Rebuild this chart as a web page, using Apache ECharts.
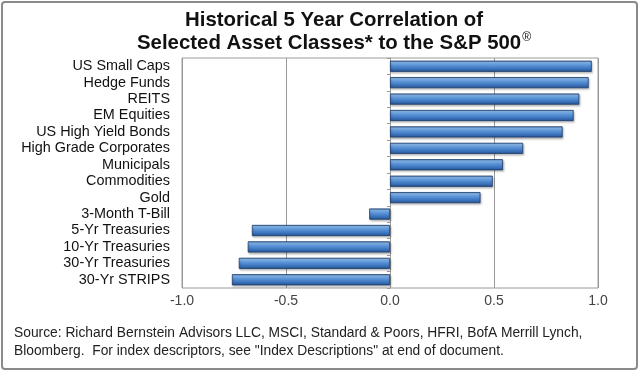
<!DOCTYPE html>
<html><head><meta charset="utf-8">
<script src="https://cdn.jsdelivr.net/npm/echarts@6/dist/echarts.min.js"></script>
<style>html,body{margin:0;padding:0;background:#fff}#c{width:640px;height:373px}</style>
</head><body><div id="c"></div>
<script>
const categories = ["US Small Caps","Hedge Funds","REITS","EM Equities","US High Yield Bonds","High Grade Corporates","Municipals","Commodities","Gold","3-Month T-Bill","5-Yr Treasuries","10-Yr Treasuries","30-Yr Treasuries","30-Yr STRIPS"];
const correlations = [0.97,0.955,0.91,0.883,0.83,0.64,0.543,0.494,0.435,-0.10,-0.664,-0.684,-0.727,-0.76];
const xTicks = {min:-1, max:1, step:0.5};
const titleLine1 = "Historical 5 Year Correlation of";
const titleLine2 = "Selected Asset Classes* to the S&P 500";
const titleMark = "\u00AE";
const sourceLines = ["Source: Richard Bernstein Advisors LLC, MSCI, Standard & Poors, HFRI, BofA Merrill Lynch,","Bloomberg.  For index descriptors, see \"Index Descriptions\" at end of document."];

const chart = echarts.init(document.getElementById('c'), null, {renderer:'canvas'});
const font = 'Arial, "Liberation Sans", sans-serif';
const barGrad = new echarts.graphic.LinearGradient(0,0,0,1,[
  {offset:0,color:'#3a6cb0'},
  {offset:0.15,color:'#8cbef0'},
  {offset:0.38,color:'#5f97da'},
  {offset:0.72,color:'#3c74bd'},
  {offset:1,color:'#22508e'}
]);
chart.setOption({
  animation:false,
  graphic:[
    {type:'rect', shape:{x:2,y:2,width:635,height:367,r:3}, style:{fill:'none',stroke:'#8a8a8a',lineWidth:2}, silent:true, z:-1},
    {type:'text', x:334, y:9, style:{text:titleLine1+'\n'+titleLine2+'{sup|'+titleMark+'}', align:'center',
      font:'bold 20.4px '+font, fill:'#111', lineHeight:23,
      rich:{sup:{font:'12px '+font, fill:'#111', verticalAlign:'top', lineHeight:23, padding:[0,0,8,1]}}}},
    {type:'text', left:14, top:324, style:{text:sourceLines.join('\n'), font:'13.8px '+font, fill:'#222', lineHeight:18}}
  ],
  grid:{left:182,right:42,top:58,bottom:85,show:true,borderColor:'#9a9a9a',borderWidth:1,backgroundColor:'#fff'},
  xAxis:{type:'value',min:xTicks.min,max:xTicks.max,interval:xTicks.step,
    axisLine:{show:false},axisTick:{show:false},
    axisLabel:{fontFamily:font,fontSize:14,color:'#444',margin:6,formatter:v=>v.toFixed(1)},
    splitLine:{show:true,lineStyle:{color:'#9a9a9a',width:1}}},
  yAxis:[
    {type:'category',data:categories,inverse:true,position:'left',
      axisLine:{show:false,onZero:false},axisTick:{show:false},
      axisLabel:{fontFamily:font,fontSize:14.4,color:'#111',margin:12,interval:0}},
    {type:'category',data:categories,inverse:true,position:'left',
      axisLine:{show:true,onZero:true,lineStyle:{color:'#9a9a9a'}},
      axisTick:{show:true,length:3,lineStyle:{color:'#9a9a9a'}},
      axisLabel:{show:false}}
  ],
  series:[{type:'bar',yAxisIndex:0,data:correlations,barCategoryGap:'32%',
    itemStyle:{color:barGrad,borderColor:'#1e3c6a',borderWidth:0.8,
      shadowColor:'rgba(0,0,0,0.25)',shadowBlur:2,shadowOffsetX:1,shadowOffsetY:1.5}}]
});
</script></body></html>
